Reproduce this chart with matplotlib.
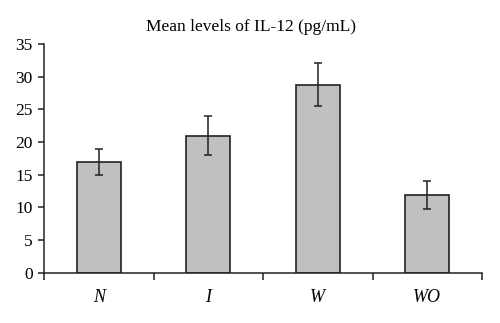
import matplotlib
matplotlib.use("Agg")
import matplotlib.pyplot as plt
import numpy as np

categories = ["N", "I", "W", "WO"]
means = [17.0, 21.0, 28.8, 11.9]
errors = [2.0, 3.0, 3.3, 2.2]
yticks = [0, 5, 10, 15, 20, 25, 30, 35]

plt.rcParams['font.family'] = ['Liberation Serif', 'DejaVu Serif']

fig = plt.figure(figsize=(5.0, 3.23), dpi=100)
ax = fig.add_axes([0.088, 0.156, 0.876, 0.707])

x = np.arange(len(categories))
ax.bar(x, means, width=0.4, color="#c0c0c0", edgecolor="#222222", linewidth=1.2, zorder=2)
ax.errorbar(x, means, yerr=errors, fmt="none", ecolor="#222222", elinewidth=1.1,
            capsize=3.0, capthick=1.1, zorder=3)

ax.set_xlim(-0.5, len(categories) - 0.5)
ax.set_ylim(0, 35)
ax.set_yticks(yticks)
ax.set_yticklabels([str(v) for v in yticks], fontsize=12.5)

ax.set_xticks(np.arange(len(categories) + 1) - 0.5)
ax.set_xticklabels([])
ax.set_xticks(x, minor=True)
ax.set_xticklabels(categories, minor=True, fontsize=13, style="italic")
ax.tick_params(axis="x", which="minor", length=0, pad=12)
ax.tick_params(axis="x", which="major", length=5, width=1.1, direction="out", color="#222222")
ax.tick_params(axis="y", length=4, width=1.1, direction="out", pad=4, color="#222222")

for s in ["top", "right"]:
    ax.spines[s].set_visible(False)
for s in ["left", "bottom"]:
    ax.spines[s].set_linewidth(1.1)
    ax.spines[s].set_color("#222222")

fig.text(0.502, 0.915, "Mean levels of IL-12 (pg/mL)", ha="center", va="center", fontsize=12.5)

fig.savefig("out.png", dpi=100)
